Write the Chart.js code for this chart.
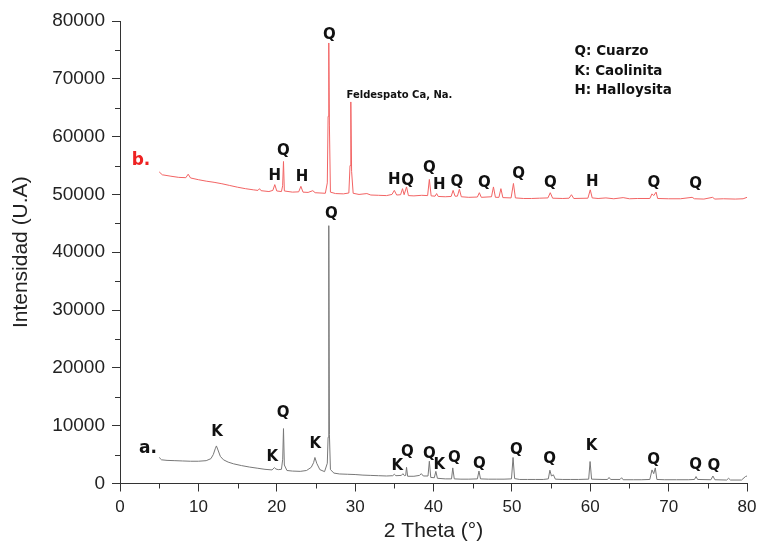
<!DOCTYPE html>
<html>
<head>
<meta charset="utf-8">
<title>DRX</title>
<script src="https://cdn.jsdelivr.net/npm/chart.js@4.4.1/dist/chart.umd.min.js"></script>
<style>
  html, body { margin: 0; padding: 0; background: #fff; }
  canvas { display: block; }
</style>
</head>
<body>
<canvas id="xrd" width="759" height="556"></canvas>
<script>
// sample a (grey): 2θ in degrees and counts
const thetaA = [
  5.0, 5.3, 6.0, 7.0, 8.0, 9.0, 10.0, 11.0,
  11.6, 11.9, 12.15, 12.3, 12.5, 12.8, 13.2, 13.8,
  14.5, 15.5, 16.5, 17.5, 18.5, 19.4, 19.7, 19.9, 20.2, 20.6,
  20.76, 20.86, 20.97, 21.3, 22.0, 23.0, 23.8, 24.4, 24.7, 24.87, 25.1, 25.5,
  26.1, 26.45, 26.55, 26.64, 26.72, 26.85, 27.3, 28.0, 29.0, 30.0,
  31.0, 32.0, 33.0, 34.0, 34.8, 35.0, 35.2, 35.9, 36.1, 36.3, 36.45, 36.56, 36.7,
  37.5, 38.2, 38.45, 38.7, 39.3, 39.47, 39.65, 40.1, 40.3, 40.5, 41.5,
  42.3, 42.46, 42.65, 43.5, 44.5, 45.6, 45.8, 46.0, 47.0, 48.0, 49.0,
  49.95, 50.15, 50.35, 51.0, 52.0, 53.0, 54.0, 54.65, 54.85, 55.05, 55.3, 55.55,
  56.5, 57.5, 58.5, 59.8, 59.98, 60.17, 61.5, 62.2, 62.4, 62.6, 63.8, 64.0, 64.2,
  65.5, 66.5, 67.6, 67.88, 68.1, 68.3, 68.5, 69.5, 71.0, 72.5,
  73.3, 73.5, 73.7, 75.4, 75.65, 75.9, 77.4, 77.65, 77.9, 79.3, 79.8, 80.0
];
const intensityA = [
  4500, 4100, 4000, 3950, 3900, 3850, 3850, 3950,
  4300, 5000, 6000, 6500, 5800, 4700, 4100, 3700,
  3400, 3100, 2850, 2650, 2450, 2350, 2750, 2500, 2400, 2450,
  4200, 9500, 3200, 2250, 2150, 2100, 2250, 2800, 3600, 4500, 3500, 2400,
  2050, 3500, 8000, 44600, 8500, 2400, 1800, 1650, 1600, 1550,
  1450, 1400, 1350, 1300, 1350, 1600, 1350, 1400, 1700, 1350, 1400, 2800, 1250,
  1250, 1400, 1700, 1300, 1300, 3850, 1050, 1000, 2100, 900, 800,
  800, 2700, 800, 750, 750, 800, 2150, 800, 750, 750, 750,
  800, 4500, 850, 700, 700, 700, 700, 800, 2300, 1300, 1500, 750,
  700, 700, 700, 750, 3800, 750, 700, 700, 1050, 700, 700, 1000, 650,
  650, 650, 700, 2350, 1700, 2700, 700, 650, 650, 650,
  700, 1200, 700, 650, 1300, 650, 600, 900, 600, 600, 1200, 1300
];

// sample b (red)
const thetaB = [
  5.0, 5.4, 6.5, 7.5, 8.4, 8.7, 9.0, 10.0, 11.0, 12.0,
  13.0, 14.0, 15.0, 16.0, 17.0, 17.6, 17.8, 18.0, 19.0, 19.5, 19.75, 20.0,
  20.6, 20.75, 20.86, 20.97, 22.0, 22.8, 23.08, 23.35, 24.0, 24.6, 24.9, 26.2,
  26.45, 26.55, 26.64, 26.72, 26.85, 27.5, 28.5, 29.2, 29.35, 29.45, 29.55, 29.75,
  30.5, 31.5, 32.0, 33.0, 34.0, 34.7, 35.0, 35.3, 35.8, 36.05, 36.25, 36.56, 36.8,
  37.5, 38.5, 39.25, 39.47, 39.7, 40.2, 40.4, 40.6, 41.5, 42.25, 42.5, 42.75,
  43.05, 43.3, 43.55, 44.5, 45.6, 45.85, 46.1, 47.4, 47.65, 47.9, 48.35, 48.6, 48.85,
  49.9, 50.2, 50.45, 51.5, 52.5, 53.5, 54.6, 54.9, 55.2, 56.5, 57.3, 57.6, 57.9,
  59.7, 60.0, 60.25, 61.0, 62.0, 63.0, 64.2, 65.0, 66.0, 67.6, 67.88, 68.1, 68.4, 68.6,
  70.0, 71.5, 73.0, 73.3, 74.5, 75.6, 75.9, 77.0, 78.5, 79.5, 80.0
];
const intensityB = [
  53900, 53400, 53150, 52950, 52900, 53500, 52850, 52550, 52300, 52100,
  51850, 51550, 51250, 51000, 50800, 50700, 51000, 50650, 50500, 50700, 51700, 50600,
  50500, 51500, 55700, 50600, 50400, 50450, 51400, 50400, 50350, 50650, 50300, 50200,
  52000, 63500, 76200, 62000, 50400, 50150, 50100, 50250, 55000, 66000, 54000, 50200,
  50000, 50150, 49900, 49850, 49800, 50000, 50700, 49900, 49950, 51000, 49950, 51300, 49800,
  49750, 49850, 49800, 52600, 49750, 49700, 50150, 49650, 49600, 49650, 50700, 49700,
  49700, 50900, 49600, 49500, 49550, 50300, 49500, 49600, 51300, 49500, 49500, 51000, 49450,
  49400, 51900, 49400, 49300, 49300, 49350, 49400, 50300, 49350, 49300, 49350, 49950, 49300,
  49350, 50800, 49400, 49300, 49400, 49250, 49450, 49250, 49300, 49300, 50100, 49800, 50400, 49300,
  49250, 49250, 49500, 49250, 49200, 49500, 49200, 49250, 49200, 49250, 49500
];

// phase letters over the peaks (2θ, height where the letter sits)
const peakTextA = ['K', 'K', 'Q', 'K', 'Q', 'K', 'Q', 'Q', 'K', 'Q', 'Q', 'Q', 'Q', 'K', 'Q', 'Q', 'Q'];
const peakThetaA = [12.39, 19.42, 20.82, 24.91, 26.96, 35.39, 36.67, 39.48, 40.75, 42.67, 45.86, 50.59, 54.81, 60.17, 68.09, 73.46, 75.76];
const peakHeightA = [8900, 4600, 12200, 6850, 46600, 3050, 5450, 5100, 3200, 4400, 3380, 5800, 4250, 6500, 4070, 3200, 3030];

const peakTextB = ['H', 'Q', 'H', 'Q', 'H', 'Q', 'Q', 'H', 'Q', 'Q', 'Q', 'Q', 'H', 'Q', 'Q'];
const peakThetaB = [19.76, 20.86, 23.21, 26.70, 35.0, 36.7, 39.48, 40.75, 42.97, 46.5, 50.85, 54.9, 60.26, 68.13, 73.46];
const peakHeightB = [53200, 57550, 53050, 77550, 52450, 52350, 54500, 51600, 52200, 52000, 53500, 52000, 52200, 51900, 51800];

const feldsparLabel = 'Feldespato Ca, Na.';
const feldsparAt = [28.9, 67150];

const sampleNames = ['a.', 'b.'];
const sampleAt = [[3.58, 6100], [2.68, 55800]];

const phaseKey = ['Q: Cuarzo', 'K: Caolinita', 'H: Halloysita'];
const phaseKeyTheta = 58.0;
const phaseKeyHeight = [74800, 71350, 68000];

const toPoints = (xs, ys) => xs.map((v, i) => ({ x: v, y: ys[i] }));

const letterFont = 'bold 15px "DejaVu Sans", sans-serif';
const axisFont = '"Liberation Sans", Arial, sans-serif';

// letters, sample names and the phase key, drawn in data space
const textMarks = {
    id: 'textMarks',
    afterDatasetsDraw(chart) {
        const { ctx, scales: { x, y } } = chart;
        ctx.save();
        ctx.textAlign = 'center';
        ctx.textBaseline = 'middle';
        ctx.fillStyle = '#111';
        ctx.font = letterFont;
        peakTextA.forEach((t, i) => {
            ctx.fillText(t, x.getPixelForValue(peakThetaA[i]), y.getPixelForValue(peakHeightA[i]));
        });
        peakTextB.forEach((t, i) => {
            ctx.fillText(t, x.getPixelForValue(peakThetaB[i]), y.getPixelForValue(peakHeightB[i]));
        });

        ctx.font = 'bold 17px "DejaVu Sans", sans-serif';
        ctx.fillStyle = '#111';
        ctx.fillText(sampleNames[0], x.getPixelForValue(sampleAt[0][0]), y.getPixelForValue(sampleAt[0][1]));
        ctx.fillStyle = '#ee2222';
        ctx.fillText(sampleNames[1], x.getPixelForValue(sampleAt[1][0]), y.getPixelForValue(sampleAt[1][1]));

        ctx.textAlign = 'left';
        ctx.fillStyle = '#111';
        ctx.font = 'bold 10px "DejaVu Sans", sans-serif';
        ctx.fillText(feldsparLabel, x.getPixelForValue(feldsparAt[0]), y.getPixelForValue(feldsparAt[1]));

        ctx.font = 'bold 13.5px "DejaVu Sans", sans-serif';
        phaseKey.forEach((t, i) => {
            ctx.fillText(t, x.getPixelForValue(phaseKeyTheta), y.getPixelForValue(phaseKeyHeight[i]));
        });
        ctx.restore();
    }
};

// short ticks halfway between the labelled ones
const minorTicks = {
    id: 'minorTicks',
    afterDraw(chart) {
        const { ctx, chartArea, scales: { x, y } } = chart;
        ctx.save();
        ctx.strokeStyle = '#333';
        ctx.lineWidth = 1;
        ctx.beginPath();
        for (let v = 5; v < 80; v += 10) {
            const px = Math.round(x.getPixelForValue(v)) + 0.5;
            ctx.moveTo(px, chartArea.bottom);
            ctx.lineTo(px, chartArea.bottom + 5);
        }
        for (let v = 5000; v < 80000; v += 10000) {
            const py = Math.round(y.getPixelForValue(v)) + 0.5;
            ctx.moveTo(chartArea.left, py);
            ctx.lineTo(chartArea.left - 5, py);
        }
        ctx.stroke();
        ctx.restore();
    }
};

new Chart(document.getElementById('xrd'), {
    type: 'scatter',
    data: {
        datasets: [
            {
                label: 'a',
                data: toPoints(thetaA, intensityA),
                showLine: true,
                borderColor: 'rgb(120,120,120)',
                borderWidth: 1,
                pointRadius: 0,
                tension: 0,
            },
            {
                label: 'b',
                data: toPoints(thetaB, intensityB),
                showLine: true,
                borderColor: 'rgb(242,100,100)',
                borderWidth: 1,
                pointRadius: 0,
                tension: 0,
            },
        ],
    },
    options: {
        responsive: false,
        animation: false,
        layout: { padding: { top: 21, right: 12, left: 0, bottom: 0 } },
        plugins: {
            legend: { display: false },
            tooltip: { enabled: false },
        },
        scales: {
            x: {
                type: 'linear',
                min: 0,
                max: 80,
                ticks: {
                    stepSize: 10,
                    padding: 6,
                    color: '#222',
                    font: { family: axisFont, size: 17 },
                    callback: (v) => String(v),
                },
                grid: { drawOnChartArea: false, drawTicks: true, tickLength: 8, color: '#333' },
                border: { display: true, color: '#333', width: 1 },
                title: {
                    display: true,
                    text: '2 Theta (°)',
                    color: '#222',
                    font: { family: axisFont, size: 21, lineHeight: 1.2 },
                    padding: { top: 0, bottom: 12 },
                },
                afterFit: (scale) => {
                    scale.height = 72.5;
                    // the "80" label may hang into the right margin
                    scale.paddingLeft = 0;
                    scale.paddingRight = 0;
                },
            },
            y: {
                min: 0,
                max: 80000,
                ticks: {
                    stepSize: 10000,
                    padding: 7,
                    color: '#222',
                    font: { family: axisFont, size: 19 },
                    callback: (v) => String(v),
                },
                grid: { drawOnChartArea: false, drawTicks: true, tickLength: 8, color: '#333' },
                border: { display: true, color: '#333', width: 1 },
                title: {
                    display: true,
                    text: 'Intensidad (U.A)',
                    color: '#222',
                    font: { family: axisFont, size: 21, lineHeight: 1.2 },
                    padding: { top: 9, bottom: 0 },
                },
                afterFit: (scale) => { scale.width = 120; },
            },
        },
    },
    plugins: [textMarks, minorTicks],
});
</script>
</body>
</html>
